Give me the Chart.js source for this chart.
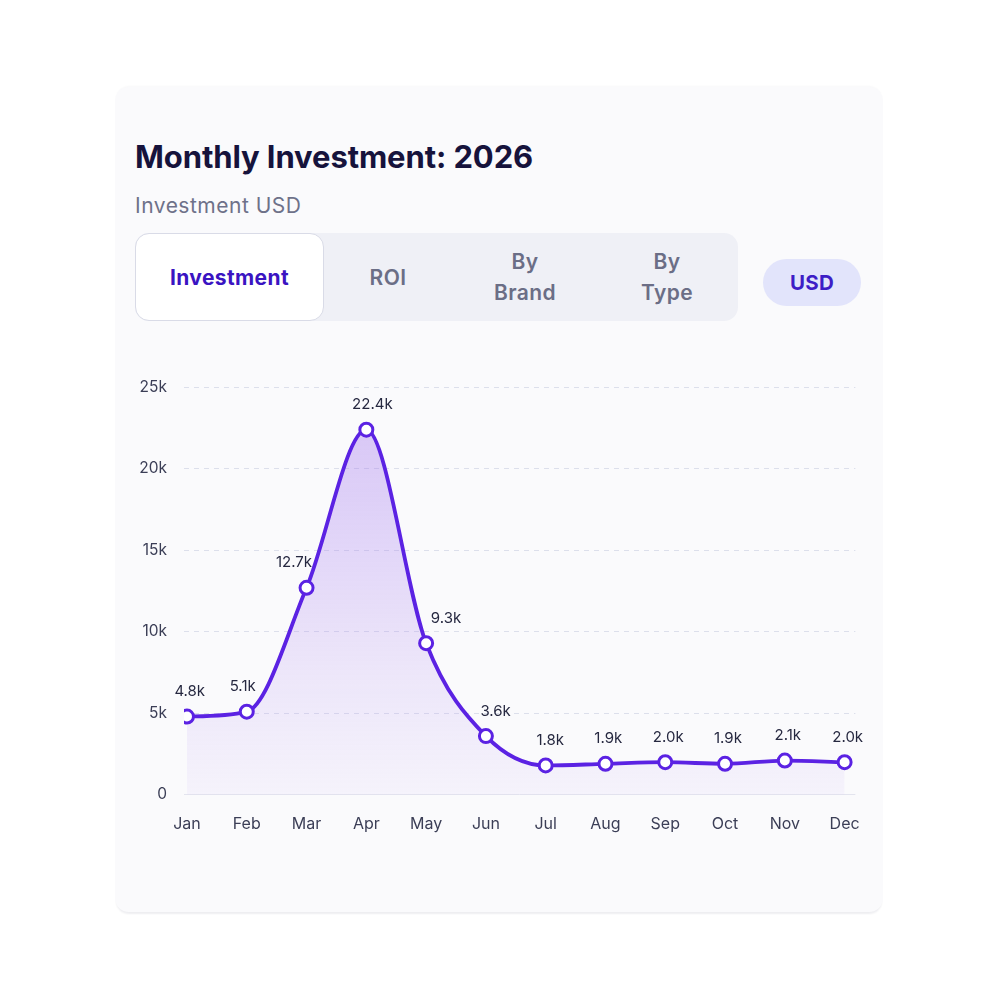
<!DOCTYPE html>
<html>
<head>
<meta charset="utf-8">
<script src="https://cdn.jsdelivr.net/npm/chart.js@4.4.1/dist/chart.umd.min.js"></script>
<style>
  html,body{margin:0;padding:0;background:#ffffff;width:1000px;height:1000px;overflow:hidden;font-family:Inter,"Noto Sans",sans-serif;}
  .card{position:absolute;left:115px;top:87px;width:768px;height:825px;background:#fafafc;border-radius:14px;
        box-shadow:0 3px 2px -1px rgba(20,20,60,0.07),0 -2px 2px -1px rgba(20,20,60,0.03);}
  .title{position:absolute;left:135px;top:138px;font-size:31px;font-weight:700;color:#16133c;letter-spacing:-0.1px;white-space:nowrap;}
  .sub{position:absolute;left:135px;top:193px;font-size:21px;font-weight:400;color:#6e7189;letter-spacing:0.5px;white-space:nowrap;}
  .tabs{position:absolute;left:135px;top:233px;width:603px;height:88px;background:#eff0f6;border-radius:14px;}
  .tab{position:absolute;top:0;height:88px;display:flex;align-items:center;justify-content:center;text-align:center;
       font-size:21px;font-weight:600;color:#6b6e86;line-height:31px;letter-spacing:0.4px;}
  .tab.active{background:#ffffff;border:1px solid #d9dbe7;border-radius:14px;color:#3a14c2;font-weight:700;box-sizing:border-box;}
  .pill{position:absolute;left:763px;top:259px;width:98px;height:47px;background:#e2e4fb;border-radius:24px;
        display:flex;align-items:center;justify-content:center;font-size:20.5px;font-weight:700;color:#3d1dc6;letter-spacing:0.3px;}
  #wrap{position:absolute;left:100px;top:361px;width:780px;height:507px;}
</style>
</head>
<body>
<div class="card"></div>
<div class="title">Monthly Investment: 2026</div>
<div class="sub">Investment USD</div>
<div class="tabs">
  <div class="tab active" style="left:0;width:189px;">Investment</div>
  <div class="tab" style="left:213px;width:80px;">ROI</div>
  <div class="tab" style="left:330px;width:120px;">By<br>Brand</div>
  <div class="tab" style="left:472px;width:120px;">By<br>Type</div>
</div>
<div class="pill">USD</div>
<div id="wrap"><canvas id="c"></canvas></div>
<script>
const months = ["Jan","Feb","Mar","Apr","May","Jun","Jul","Aug","Sep","Oct","Nov","Dec"];
const investment = [4800, 5100, 12700, 22400, 9300, 3600, 1800, 1900, 2000, 1900, 2100, 2000];
const valueLabels = ["4.8k","5.1k","12.7k","22.4k","9.3k","3.6k","1.8k","1.9k","2.0k","1.9k","2.1k","2.0k"];
const yTicks = [0, 5000, 10000, 15000, 20000, 25000];
const yTickLabels = ["0","5k","10k","15k","20k","25k"];

const LINE = "#5b22e3";
const FONT = "Inter, 'Noto Sans', sans-serif";

const valueLabelPlugin = {
  id: "valueLabels",
  afterDatasetsDraw(chart) {
    const ctx = chart.ctx;
    const pts = chart.getDatasetMeta(0).data;
    ctx.save();
    ctx.font = "15px " + FONT;
    ctx.fillStyle = "#262840";
    ctx.textAlign = "center";
    ctx.textBaseline = "middle";
    pts.forEach((p, i) => {
      const prev = pts[i - 1] || p, next = pts[i + 1] || p;
      const dx = 3 + (next.y - prev.y) * 0.055;
      ctx.fillText(valueLabels[i], p.x + dx, p.y - 25);
    });
    ctx.restore();
  }
};

new Chart(document.getElementById("c"), {
  type: "line",
  data: {
    datasets: [{
      data: investment.map((v, i) => ({x: i, y: v})),
      borderColor: LINE,
      borderWidth: 3.8,
      cubicInterpolationMode: "monotone",
      fill: "origin",
      backgroundColor: (ctx) => {
        const a = ctx.chart.chartArea;
        if (!a) return "rgba(150,100,235,0.15)";
        const g = ctx.chart.ctx.createLinearGradient(0, a.top, 0, a.bottom);
        g.addColorStop(0, "rgba(160,115,235,0.42)");
        g.addColorStop(0.55, "rgba(170,130,240,0.23)");
        g.addColorStop(1, "rgba(190,160,245,0.08)");
        return g;
      },
      pointRadius: 6.5,
      pointHoverRadius: 6.5,
      pointBackgroundColor: "#ffffff",
      pointBorderColor: LINE,
      pointBorderWidth: 3
    }]
  },
  options: {
    responsive: true,
    maintainAspectRatio: false,
    animation: false,
    events: [],
    layout: { padding: { top: 8, right: 24, bottom: 14, left: 0 } },
    plugins: { legend: { display: false }, tooltip: { enabled: false } },
    scales: {
      x: {
        type: "linear",
        min: -0.05,
        max: 11.18,
        grid: { display: false, drawTicks: false },
        border: { display: false },
        ticks: {
          stepSize: 1,
          includeBounds: false,
          autoSkip: false,
          maxRotation: 0,
          padding: 20,
          color: "#3b3e56",
          font: { family: FONT, size: 16 },
          callback: (v) => Number.isInteger(v) ? months[v] : ""
        }
      },
      y: {
        min: 0,
        max: 25000,
        afterFit: (s) => { s.width = 84; },
        afterBuildTicks: (s) => { s.ticks = yTicks.map(v => ({value: v})); },
        grid: {
          drawTicks: false,
          color: (c) => c.tick && c.tick.value === 0 ? "#e3e4ee" : "#dcdfeb",
          lineWidth: 1
        },
        border: { display: false, dash: (c) => c.tick && c.tick.value === 0 ? [] : [5, 5] },
        ticks: {
          padding: 17,
          color: "#3b3e56",
          font: { family: FONT, size: 15.5 },
          callback: (v) => { const k = yTicks.indexOf(v); return k >= 0 ? yTickLabels[k] : ""; }
        }
      }
    }
  },
  plugins: [valueLabelPlugin]
});
</script>
</body>
</html>
